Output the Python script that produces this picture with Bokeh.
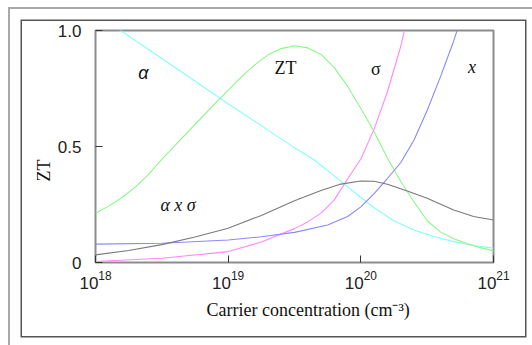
import numpy as np
from bokeh.plotting import figure
from bokeh.models import FixedTicker, Range1d, Title
from bokeh.core.properties import value
from bokeh.embed import file_html
from bokeh.resources import INLINE

# ---- data: exponent of carrier concentration (cm^-3) and value ----
alpha_exp = [18.0, 18.5, 19.0, 19.5, 19.65, 19.87, 20.0, 20.1, 20.25, 20.4, 20.55, 20.7, 20.85, 21.0]
alpha_val = [1.074, 0.879, 0.684, 0.495, 0.442, 0.341, 0.280, 0.236, 0.180, 0.140, 0.112, 0.090, 0.073, 0.062]

zt_exp = [18.0, 18.1, 18.2, 18.3, 18.4, 18.5, 18.6, 18.7, 18.8, 18.9, 19.0, 19.1, 19.2, 19.3, 19.4, 19.5,
          19.6, 19.7, 19.8, 19.9, 20.0, 20.1, 20.2, 20.3, 20.4, 20.5, 20.6, 20.7, 20.8, 20.9, 21.0]
zt_val = [0.212, 0.243, 0.280, 0.325, 0.380, 0.445, 0.505, 0.565, 0.625, 0.685, 0.743, 0.800, 0.852, 0.895,
          0.922, 0.934, 0.925, 0.897, 0.840, 0.760, 0.664, 0.564, 0.450, 0.350, 0.262, 0.180, 0.132, 0.102,
          0.082, 0.064, 0.050]

sigma_exp = [18.0, 18.5, 19.0, 19.25, 19.5, 19.6, 19.7, 19.8, 19.9, 20.0, 20.1, 20.2, 20.3, 20.4]
sigma_val = [0.004, 0.018, 0.047, 0.088, 0.146, 0.175, 0.213, 0.270, 0.360, 0.446, 0.575, 0.735, 0.930, 1.17]

x_exp = [18.0, 18.5, 19.0, 19.25, 19.5, 19.75, 19.9, 20.0, 20.1, 20.2, 20.3, 20.4, 20.5, 20.6, 20.7, 20.8]
x_val = [0.079, 0.083, 0.097, 0.111, 0.130, 0.162, 0.198, 0.240, 0.297, 0.362, 0.430, 0.527, 0.655, 0.800, 0.955, 1.13]

axs_exp = [18.0, 18.25, 18.5, 18.75, 19.0, 19.25, 19.5, 19.7, 19.85, 20.0, 20.1, 20.2, 20.35, 20.5, 20.7, 20.85, 21.0]
axs_val = [0.033, 0.052, 0.077, 0.110, 0.148, 0.203, 0.266, 0.310, 0.338, 0.351, 0.350, 0.337, 0.308, 0.277,
           0.226, 0.198, 0.183]

x_ticks = [1e18, 1e19, 1e20, 1e21]
y_ticks = [0, 0.5, 1.0]
y_tick_labels = ["0", "0.5", "1.0"]

curve_labels = ["α", "ZT", "σ", "x", "α x σ"]
label_x = [2.30e18, 2.70e19, 1.30e20, 6.89e20, 4.19e18]
label_y = [0.817, 0.838, 0.836, 0.841, 0.246]

x_title = "Carrier concentration (cm⁻³)"
y_title = "ZT"


def conc(e):
    return np.power(10.0, np.array(e))


p = figure(width=503, height=315, x_axis_type="log", output_backend="svg",
           toolbar_location=None, x_range=Range1d(1e18, 1e21), y_range=Range1d(0, 1.0))
p.margin = (21, 0, 0, 22)
p.styles = {"box-shadow": "0 0 0 1.5px #555555, -1px -1px 0 11px #ffffff, -2px -2px 0 12px #a8a8a8"}
p.min_border_left = 73
p.min_border_right = 32
p.min_border_top = 9
p.min_border_bottom = 74
p.grid.visible = False
p.background_fill_color = "white"
p.border_fill_color = "white"
p.outline_line_color = "#8c8c8c"
p.outline_line_width = 2

lw = 1.1
p.line(conc(alpha_exp), alpha_val, line_color="#80ffff", line_width=lw)
p.line(conc(zt_exp), zt_val, line_color="#88f888", line_width=lw)
p.line(conc(sigma_exp), sigma_val, line_color="#ff88ff", line_width=lw)
p.line(conc(x_exp), x_val, line_color="#8888ff", line_width=lw)
p.line(conc(axs_exp), axs_val, line_color="#7a7a7a", line_width=lw)

# curve labels
fonts = ["Liberation Sans", "Liberation Serif", "Liberation Serif", "Liberation Serif", "Liberation Serif"]
styles = ["italic", "normal", "normal", "italic", "italic"]
for t, xx, yy, f, s in zip(curve_labels, label_x, label_y, fonts, styles):
    p.text(x=[xx], y=[yy], text=[t], text_font=value(f), text_font_style=s,
           text_font_size="18px", text_align="center", text_baseline="middle", text_color="#111111")

# axes
xa = p.xaxis[0]
xa.ticker = FixedTicker(ticks=x_ticks)
xa.minor_tick_line_color = None
xa.axis_line_color = None
xa.major_tick_in = 7
xa.major_tick_out = 0
xa.major_tick_line_color = "#333333"
xa.major_label_text_font = "Liberation Sans"
xa.major_label_text_font_size = "17px"
xa.major_label_text_color = "#222222"
xa.major_label_standoff = 8

ya = p.yaxis[0]
ya.ticker = FixedTicker(ticks=y_ticks)
ya.major_label_overrides = {t: l for t, l in zip(y_ticks, y_tick_labels)}
ya.minor_tick_line_color = None
ya.axis_line_color = None
ya.major_tick_in = 7
ya.major_tick_out = 0
ya.major_tick_line_color = "#333333"
ya.major_label_text_font = "Liberation Sans"
ya.major_label_text_font_size = "17px"
ya.major_label_text_color = "#222222"
ya.major_label_standoff = 14

# axis titles (positioned like the original, off-centre)
xt = Title(text=x_title, align="left", offset=111, standoff=13,
           text_font="Liberation Serif", text_font_style="normal", text_font_size="18px", text_color="#111111")
p.add_layout(xt, "below")
yt = Title(text=y_title, align="left", offset=81, standoff=2,
           text_font="Liberation Serif", text_font_style="normal", text_font_size="18px", text_color="#111111")
p.add_layout(yt, "left")

open("out.html", "w").write(file_html(p, INLINE))
